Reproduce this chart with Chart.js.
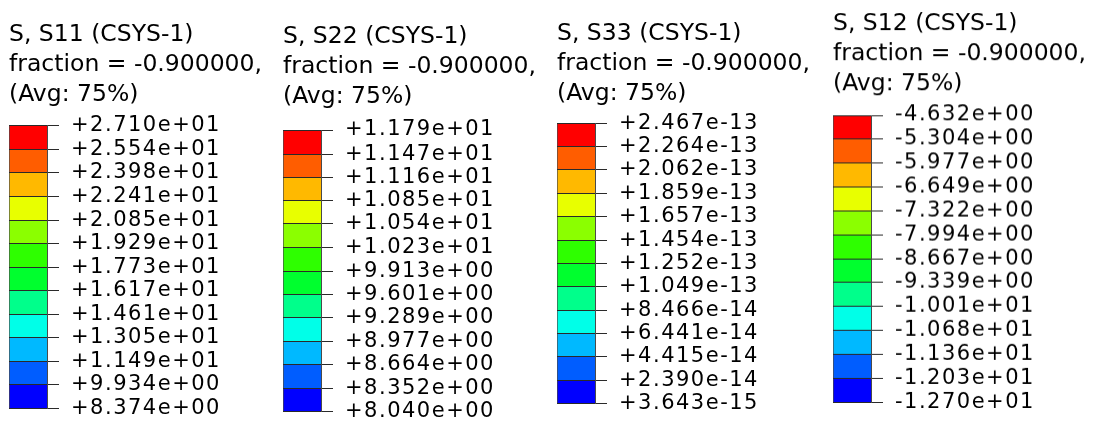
<!DOCTYPE html>
<html>
<head>
<meta charset="utf-8">
<script src="https://cdn.jsdelivr.net/npm/chart.js@4.4.1/dist/chart.umd.min.js"></script>
<style>
  html, body { margin: 0; padding: 0; background: #fff; width: 1104px; height: 431px; overflow: hidden; }
  .panel { position: absolute; top: 0; }
</style>
</head>
<body>
<div class="panel" id="p0"><canvas id="c0"></canvas></div>
<div class="panel" id="p1"><canvas id="c1"></canvas></div>
<div class="panel" id="p2"><canvas id="c2"></canvas></div>
<div class="panel" id="p3"><canvas id="c3"></canvas></div>
<script>
// Contour spectrum, top band (max) first
const spectrum = ['#FF0000', '#FF5D00', '#FFB900', '#E8FF00', '#8BFF00', '#2EFF00',
                  '#00FF2E', '#00FF8B', '#00FFE8', '#00B9FF', '#005DFF', '#0000FF'];

// S11
const s11Title = ['S, S11 (CSYS-1)', 'fraction = -0.900000,', '(Avg: 75%)'];
const s11Labels = ['+2.710e+01', '+2.554e+01', '+2.398e+01', '+2.241e+01', '+2.085e+01', '+1.929e+01',
                   '+1.773e+01', '+1.617e+01', '+1.461e+01', '+1.305e+01', '+1.149e+01', '+9.934e+00', '+8.374e+00'];

// S22
const s22Title = ['S, S22 (CSYS-1)', 'fraction = -0.900000,', '(Avg: 75%)'];
const s22Labels = ['+1.179e+01', '+1.147e+01', '+1.116e+01', '+1.085e+01', '+1.054e+01', '+1.023e+01',
                   '+9.913e+00', '+9.601e+00', '+9.289e+00', '+8.977e+00', '+8.664e+00', '+8.352e+00', '+8.040e+00'];

// S33
const s33Title = ['S, S33 (CSYS-1)', 'fraction = -0.900000,', '(Avg: 75%)'];
const s33Labels = ['+2.467e-13', '+2.264e-13', '+2.062e-13', '+1.859e-13', '+1.657e-13', '+1.454e-13',
                   '+1.252e-13', '+1.049e-13', '+8.466e-14', '+6.441e-14', '+4.415e-14', '+2.390e-14', '+3.643e-15'];

// S12
const s12Title = ['S, S12 (CSYS-1)', 'fraction = -0.900000,', '(Avg: 75%)'];
const s12Labels = ['-4.632e+00', '-5.304e+00', '-5.977e+00', '-6.649e+00', '-7.322e+00', '-7.994e+00',
                   '-8.667e+00', '-9.339e+00', '-1.001e+01', '-1.068e+01', '-1.136e+01', '-1.203e+01', '-1.270e+01'];

// Panel placement (pixels): colour bar box and first title baseline
const placement = [
  { left: 9,     width: 270, barWidth: 38, barTop: 125.7, barBottom: 420,   baseline: 43.3 },
  { left: 282.5, width: 270, barWidth: 38, barTop: 130,   barBottom: 423.3, baseline: 45 },
  { left: 556.5, width: 270, barWidth: 38, barTop: 123.3, barBottom: 415,   baseline: 41.7 },
  { left: 833,   width: 270, barWidth: 38, barTop: 115,   barBottom: 412.7, baseline: 31.7 }
];

const FONT = 'DejaVu Sans';
const TITLE_SIZE = 23.5;
const TITLE_LINE = 30;
const LABEL_SIZE = 21;
const BOTTOM_PAD = 11;

// Wider tracking for the value labels of the colour bar
const labelTracking = {
  id: 'labelTracking',
  beforeDraw(chart) {
    const s = chart.scales.y;
    if (s && !s.__tracked) {
      const drawLabels = s.drawLabels;
      s.drawLabels = function (area) {
        const c = this.ctx;
        c.save();
        c.letterSpacing = '1.5px';
        drawLabels.call(this, area);
        c.restore();
      };
      s.__tracked = true;
    }
  }
};

function contourLegend(idx, title, labels) {
  const place = placement[idx];
  const panel = document.getElementById('p' + idx);
  panel.style.left = place.left + 'px';
  panel.style.width = place.width + 'px';
  panel.style.height = (place.barBottom + BOTTOM_PAD) + 'px';

  const levels = labels.map(Number);
  const titleTop = place.baseline - 0.346 * TITLE_SIZE - TITLE_LINE / 2;
  const titleBottom = place.barTop - (titleTop + TITLE_LINE * title.length);

  const datasets = spectrum.map((color, k) => ({
    data: [[levels[k + 1], levels[k]]],
    backgroundColor: color,
    borderColor: '#4a4a4a',
    borderWidth: { left: 1, top: 0, right: 0, bottom: 0 },
    borderSkipped: false,
    grouped: false,
    barPercentage: 1,
    categoryPercentage: 1
  }));

  return new Chart(document.getElementById('c' + idx), {
    type: 'bar',
    data: { labels: [''], datasets },
    plugins: [labelTracking],
    options: {
      responsive: true,
      maintainAspectRatio: false,
      animation: false,
      events: [],
      layout: { padding: { left: 0, right: 0, top: 0, bottom: BOTTOM_PAD } },
      plugins: {
        legend: { display: false },
        tooltip: { enabled: false },
        title: {
          display: true,
          text: title,
          align: 'start',
          color: '#000',
          font: { family: FONT, size: TITLE_SIZE, weight: 'normal', lineHeight: TITLE_LINE + 'px' },
          padding: { top: titleTop, bottom: titleBottom }
        }
      },
      scales: {
        x: { display: false },
        y: {
          type: 'linear',
          position: 'right',
          min: levels[levels.length - 1],
          max: levels[0],
          bounds: 'data',
          grid: { display: true, drawOnChartArea: true, drawTicks: true, tickLength: 12,
                  color: '#2a2a2a', lineWidth: 1, z: 1 },
          border: { display: true, color: '#4a4a4a', width: 1, z: 1 },
          ticks: {
            autoSkip: false,
            padding: 12,
            color: '#000',
            font: { family: FONT, size: LABEL_SIZE, lineHeight: 1 },
            callback: (v, i) => labels[i]
          },
          afterBuildTicks: (scale) => { scale.ticks = levels.map(v => ({ value: v })); },
          afterFit: (scale) => { scale.width = place.width - place.barWidth; }
        }
      }
    }
  });
}

contourLegend(0, s11Title, s11Labels);
contourLegend(1, s22Title, s22Labels);
contourLegend(2, s33Title, s33Labels);
contourLegend(3, s12Title, s12Labels);
</script>
</body>
</html>
